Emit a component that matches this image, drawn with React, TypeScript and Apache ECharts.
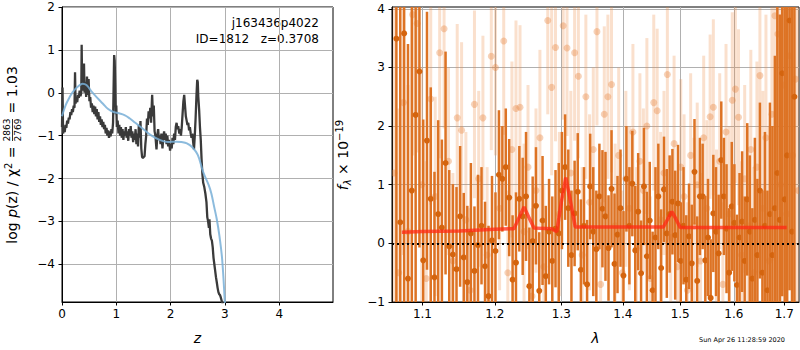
import React, { useEffect, useRef } from 'react';
import * as echarts from 'echarts';

// ---------- left panel: log p(z) ----------
const pzCurve: [number, number][] = [
  [0.0, -0.8], [0.01, 0.12], [0.02, -0.95], [0.035, -0.85], [0.05, -0.92], [0.065, -0.75], [0.08, -0.82], [0.095, -0.65],
  [0.11, -0.72], [0.125, -0.58], [0.14, -0.62], [0.155, -0.45], [0.17, -0.52], [0.185, -0.38], [0.2, -0.45], [0.215, -0.3],
  [0.23, -0.35], [0.24, 0.48], [0.25, -0.25], [0.265, -0.15], [0.28, -0.22], [0.295, -0.05], [0.31, -0.12], [0.325, 0.05],
  [0.34, -0.08], [0.355, 0.0], [0.362, 1.12], [0.372, 0.05], [0.39, 0.15], [0.405, 0.68], [0.415, 0.0], [0.43, 0.25],
  [0.445, -0.1], [0.46, 0.38], [0.475, -0.05], [0.49, 0.32], [0.505, -0.2], [0.52, -0.1], [0.535, -0.35], [0.55, -0.25],
  [0.565, -0.45], [0.58, -0.3], [0.595, -0.5], [0.61, -0.32], [0.625, -0.55], [0.64, -0.38], [0.655, -0.62], [0.67, -0.45],
  [0.685, -0.68], [0.7, -0.55], [0.715, -0.75], [0.73, -0.62], [0.745, -0.8], [0.76, -0.68], [0.775, -0.85], [0.79, -0.75],
  [0.805, -0.95], [0.82, -0.82], [0.835, -1.0], [0.85, -0.88], [0.865, -1.05], [0.88, -0.9], [0.895, -1.02], [0.91, -0.85],
  [0.925, -0.95], [0.94, -0.7], [0.95, 0.1], [0.96, 0.88], [0.97, 0.75], [0.98, 0.2], [0.99, -0.5], [1.0, -0.3],
  [1.01, -0.8], [1.025, -0.65], [1.04, -0.95], [1.055, -0.75], [1.07, -1.0], [1.085, -0.8], [1.1, -1.05], [1.115, -0.85],
  [1.13, -1.1], [1.145, -0.9], [1.16, -1.0], [1.175, -0.8], [1.19, -1.05], [1.205, -0.9], [1.22, -1.12], [1.235, -0.85],
  [1.25, -1.0], [1.265, -0.78], [1.28, -1.05], [1.295, -0.9], [1.31, -1.15], [1.325, -0.95], [1.34, -1.1], [1.355, -0.85],
  [1.37, -1.2], [1.385, -0.95], [1.4, -1.25], [1.415, -0.75], [1.43, -1.05], [1.445, -0.66], [1.46, -1.3], [1.475, -1.5],
  [1.49, -1.52], [1.505, -1.5], [1.52, -1.48], [1.535, -1.2], [1.55, -1.0], [1.565, -0.6], [1.58, -0.75], [1.595, -0.43],
  [1.61, -0.6], [1.625, -0.35], [1.64, -0.7], [1.66, -0.05], [1.675, -0.55], [1.69, -0.3], [1.705, -0.9], [1.72, -1.0],
  [1.74, -1.32], [1.755, -1.0], [1.77, -0.85], [1.785, -1.1], [1.8, -1.0], [1.815, -1.2], [1.83, -0.95], [1.85, -1.3],
  [1.865, -1.05], [1.88, -0.9], [1.895, -1.1], [1.91, -0.95], [1.925, -1.2], [1.94, -1.0], [1.955, -1.25], [1.97, -1.1],
  [1.99, -1.35], [2.005, -1.2], [2.02, -1.3], [2.035, -1.05], [2.05, -1.2], [2.065, -0.95], [2.08, -1.1], [2.095, -0.8],
  [2.11, -0.7], [2.125, -0.85], [2.14, -0.78], [2.16, -0.95], [2.175, -0.85], [2.19, -1.0], [2.205, -0.8], [2.22, -0.5],
  [2.235, -0.2], [2.25, -0.05], [2.265, -0.3], [2.28, -0.55], [2.295, -0.65], [2.31, -0.75], [2.325, -0.7], [2.34, -0.88],
  [2.355, -0.8], [2.37, -0.95], [2.385, -1.05], [2.4, -0.95], [2.415, -1.15], [2.43, -1.32], [2.445, -1.0], [2.46, -0.6],
  [2.475, -0.1], [2.49, 0.3], [2.5, 0.25], [2.51, -0.1], [2.525, -0.4], [2.54, -0.8], [2.555, -1.1], [2.57, -1.55],
  [2.585, -1.9], [2.6, -2.1], [2.62, -2.2], [2.64, -2.35], [2.66, -2.55], [2.675, -2.9], [2.69, -3.0], [2.705, -3.15],
  [2.715, -2.95], [2.73, -3.3], [2.745, -3.4], [2.76, -3.45], [2.775, -3.6], [2.79, -3.85], [2.805, -4.0], [2.82, -4.15],
  [2.835, -4.3], [2.85, -4.42], [2.865, -4.55], [2.88, -4.65], [2.895, -4.7], [2.91, -4.72], [2.925, -4.78], [2.94, -4.85],
  [2.955, -4.92], [2.97, -5.0],
];

const pzSmooth: [number, number][] = [
  [0.0, -0.55], [0.05, -0.35], [0.1, -0.2], [0.2, 0.02], [0.3, 0.15], [0.38, 0.21], [0.45, 0.18], [0.55, 0.02],
  [0.65, -0.12], [0.75, -0.25], [0.85, -0.38], [0.95, -0.45], [1.05, -0.48], [1.15, -0.52], [1.25, -0.6], [1.35, -0.7],
  [1.5, -0.85], [1.65, -1.0], [1.8, -1.1], [1.95, -1.15], [2.1, -1.14], [2.2, -1.15], [2.3, -1.18], [2.4, -1.27],
  [2.5, -1.45], [2.6, -1.85], [2.7, -2.15], [2.75, -2.35], [2.8, -2.65], [2.85, -2.95], [2.9, -3.35], [2.95, -3.9], [3.0, -4.95],
];

const leftXTicks = [0, 1, 2, 3, 4];
const leftYTicks = [-4, -3, -2, -1, 0, 1, 2];

// ---------- right panel: spectrum ----------
const darkLam = [
  1.066, 1.071, 1.076, 1.081, 1.086, 1.091, 1.096, 1.101, 1.106, 1.111,
  1.116, 1.121, 1.126, 1.131, 1.136, 1.141, 1.146, 1.151, 1.156, 1.161,
  1.166, 1.171, 1.176, 1.181, 1.186, 1.191, 1.196, 1.201, 1.206, 1.211,
  1.216, 1.221, 1.226, 1.231, 1.236, 1.241, 1.246, 1.251, 1.256, 1.261,
  1.266, 1.271, 1.276, 1.281, 1.286, 1.291, 1.296, 1.301, 1.306, 1.311,
  1.316, 1.321, 1.326, 1.331, 1.336, 1.341, 1.346, 1.351, 1.356, 1.361,
  1.366, 1.371, 1.376, 1.381, 1.386, 1.391, 1.396, 1.401, 1.406, 1.411,
  1.416, 1.421, 1.426, 1.431, 1.436, 1.441, 1.446, 1.451, 1.456, 1.461,
  1.466, 1.471, 1.476, 1.481, 1.486, 1.491, 1.496, 1.501, 1.506, 1.511,
  1.516, 1.521, 1.526, 1.531, 1.536, 1.541, 1.546, 1.551, 1.556, 1.561,
  1.566, 1.571, 1.576, 1.581, 1.586, 1.591, 1.596, 1.601, 1.606, 1.611,
  1.616, 1.621, 1.626, 1.631, 1.636, 1.641, 1.646, 1.651, 1.656, 1.661,
  1.666, 1.671, 1.676, 1.681, 1.686, 1.691, 1.696, 1.701, 1.706, 1.711, 1.716, 1.721,
];
const darkFlux = [
  3.49, 0.36, 3.58, -0.6, 0.9, 2.19, 2.93, -0.29, 1.75, 0.76,
  -0.58, 0.5, 0.27, 1.37, -0.05, -0.19, -0.44, 0.46, -0.24, -0.66,
  0.17, -0.47, -0.03, 0.3, -0.39, -0.9, 0.05, -0.13, 1.17, 1.1,
  1.3, 0.78, -0.62, -0.33, 0.76, 0.46, 0.8, -0.73, 0.04, 0.64,
  -0.81, 0.39, -0.56, 0.2, -0.3, 0.25, 0.17, 0.9, 1.3, 0.6,
  -0.2, 0.51, 0.88, -0.45, 0.3, -0.7, 0.97, 0.2, -0.1, 0.8,
  0.59, 0.46, -0.08, 0.93, -0.35, 0.15, 0.6, -0.55, 1.1, 0.3,
  1.02, -0.12, 0.54, -0.51, 0.97, -0.22, 0.39, -0.8, 0.1, 0.8,
  -0.42, 0.92, 0.17, 0.5, 0.71, 0.14, 0.68, -0.3, 0.3, -0.62,
  0.12, -0.34, 1.22, -0.64, 0.8, 0.8, -0.29, 0.1, -0.93, 0.51,
  0.2, -0.17, 1.42, 0.8, 0.25, -0.5, 0.63, 0.35, -0.71, 0.1,
  0.37, -0.3, 0.75, 0.2, -0.6, 0.4, -0.2, 0.9, -0.5, 0.3,
  -0.8, 0.5, -0.2, 0.6, 1.2, 0.4, 2.9, 0.75, 1.5, 3.8, 0.2, 2.5,
];
const darkErr = [
  4.5, 4.2, 4.6, 4.0, 3.8, 3.5, 3.0, 2.4, 2.2, 1.9,
  1.8, 1.6, 1.5, 1.9, 1.3, 1.2, 1.4, 1.2, 1.1, 1.3,
  1.2, 1.1, 1.2, 1.0, 1.1, 1.2, 1.1, 1.0, 1.1, 0.9,
  1.0, 1.0, 1.1, 1.2, 0.9, 1.0, 1.1, 1.0, 1.1, 1.0,
  1.0, 1.1, 1.2, 0.9, 1.1, 1.0, 1.2, 1.0, 0.9, 1.0,
  1.1, 0.9, 1.0, 1.2, 1.0, 1.1, 0.9, 1.1, 1.0, 0.9,
  1.0, 1.1, 0.9, 1.0, 1.2, 1.0, 1.0, 1.1, 0.9, 1.0,
  0.9, 1.1, 1.0, 0.9, 1.0, 1.1, 1.0, 1.0, 1.2, 0.9,
  1.0, 0.9, 1.1, 1.0, 0.9, 1.1, 1.0, 1.0, 1.0, 1.1,
  0.9, 1.0, 0.9, 1.1, 1.0, 0.9, 1.1, 1.0, 1.0, 1.0,
  1.1, 1.0, 1.0, 1.0, 1.1, 1.1, 1.1, 1.0, 1.2, 1.1,
  1.2, 1.1, 1.3, 1.3, 1.2, 1.4, 1.3, 1.5, 1.4, 1.6,
  1.7, 1.9, 2.2, 2.6, 3.0, 3.5, 3.8, 4.2, 4.5, 4.6, 5.0, 5.0,
];

const lightLam = [
  1.063, 1.069, 1.075, 1.081, 1.087, 1.093, 1.099, 1.105, 1.111, 1.117,
  1.123, 1.129, 1.135, 1.141, 1.147, 1.153, 1.159, 1.165, 1.171, 1.177,
  1.183, 1.189, 1.195, 1.201, 1.207, 1.213, 1.219, 1.225, 1.231, 1.237,
  1.243, 1.249, 1.255, 1.261, 1.267, 1.273, 1.279, 1.285, 1.291, 1.297,
  1.303, 1.309, 1.315, 1.321, 1.327, 1.333, 1.339, 1.345, 1.351, 1.357,
  1.363, 1.369, 1.375, 1.381, 1.387, 1.393, 1.399, 1.405, 1.411, 1.417,
  1.423, 1.429, 1.435, 1.441, 1.447, 1.453, 1.459, 1.465, 1.471, 1.477,
  1.483, 1.489, 1.495, 1.501, 1.507, 1.513, 1.519, 1.525, 1.531, 1.537,
  1.543, 1.549, 1.555, 1.561, 1.567, 1.573, 1.579, 1.585, 1.591, 1.597,
  1.603, 1.609, 1.615, 1.621, 1.627, 1.633, 1.639, 1.645, 1.651, 1.657,
  1.663, 1.669, 1.675, 1.681, 1.687, 1.693, 1.699, 1.705, 1.711, 1.717, 1.723, 1.729,
];
const lightFlux = [
  1.2, -0.5, 2.4, 0.2, 3.9, 3.75, 1.0, -0.6, 2.46, 0.8,
  3.25, 3.66, 1.4, -0.3, 2.14, 1.93, 0.4, -0.8, 2.37, 1.1,
  2.14, -0.2, 3.19, 3.0, 0.6, 3.45, -0.5, 1.6, 2.3, 2.32,
  0.2, 1.3, -0.9, 0.9, 1.8, -0.4, 3.8, 2.66, 3.34, 0.5,
  3.71, 3.33, 1.2, 3.25, 2.85, -0.2, 2.5, 0.7, 1.6, 3.61,
  -0.7, 2.2, 2.5, 2.71, 0.3, 1.5, -0.5, 1.1, 0.6, 1.9,
  -0.1, 1.4, 0.9, 2.0, -0.6, 2.4, 2.26, 0.4, 1.2, 2.88,
  0.1, 1.7, -0.4, 1.3, 0.8, -0.8, 1.5, 0.3, 1.0, -0.3,
  1.8, 0.6, 2.16, 2.32, 0.2, 1.4, -0.7, 1.9, 0.5, 2.44,
  2.63, 2.15, -0.2, 1.1, 0.3, 1.6, -0.5, 1.3, 2.86, 0.6,
  1.8, -0.3, 2.2, 3.88, 3.57, 1.0, 2.7, 0.5, 3.2, 1.5, 2.8, 0.9,
];
const lightErr = [
  3.0, 2.8, 2.6, 2.5, 2.4, 2.2, 2.0, 2.0, 1.8, 1.7,
  1.8, 1.7, 1.6, 1.5, 1.6, 1.5, 1.5, 1.4, 1.6, 1.5,
  1.4, 1.5, 1.6, 1.5, 1.4, 1.6, 1.4, 1.5, 1.5, 1.4,
  1.5, 1.4, 1.5, 1.4, 1.5, 1.4, 1.6, 1.5, 1.6, 1.4,
  1.6, 1.5, 1.4, 1.5, 1.4, 1.5, 1.4, 1.5, 1.4, 1.6,
  1.4, 1.5, 1.4, 1.5, 1.4, 1.5, 1.4, 1.5, 1.4, 1.5,
  1.4, 1.5, 1.4, 1.5, 1.4, 1.5, 1.4, 1.5, 1.4, 1.6,
  1.4, 1.5, 1.4, 1.5, 1.4, 1.5, 1.4, 1.5, 1.4, 1.5,
  1.4, 1.5, 1.4, 1.5, 1.4, 1.5, 1.4, 1.5, 1.5, 1.5,
  1.6, 1.5, 1.6, 1.6, 1.7, 1.7, 1.8, 1.8, 1.9, 2.0,
  2.1, 2.3, 2.5, 2.8, 3.0, 3.2, 3.5, 3.8, 4.0, 4.2, 4.5, 4.8,
];

const modelLam = [
  1.073, 1.1, 1.15, 1.2, 1.228, 1.236, 1.243, 1.25, 1.258, 1.285, 1.293, 1.3, 1.307, 1.313, 1.322,
  1.47, 1.478, 1.485, 1.492, 1.5, 1.705,
];
const modelFlux = [
  0.19, 0.2, 0.21, 0.24, 0.25, 0.45, 0.62, 0.45, 0.26, 0.25, 0.2, 0.7, 1.12, 0.8, 0.28,
  0.28, 0.42, 0.54, 0.42, 0.27, 0.27,
];

const lamTicks = [1.1, 1.2, 1.3, 1.4, 1.5, 1.6, 1.7];
const fluxTicks = [-1, 0, 1, 2, 3, 4];
const lamMin = 1.0604;
const lamMax = 1.7305;

const FONT = 'DejaVu Sans';
const minus = (v: number) => String(v).replace('-', '\u2212');

function errItem(barW: number, r: number, barColor: string, ptColor: string) {
  return (params: any, api: any) => {
    const x = api.value(0);
    const y = api.value(1);
    const e = api.value(2);
    const top = api.coord([x, y + e]);
    const bot = api.coord([x, y - e]);
    const c = api.coord([x, y]);
    return {
      type: 'group',
      children: [
        { type: 'rect', shape: { x: c[0] - barW / 2, y: top[1], width: barW, height: bot[1] - top[1] }, style: { fill: barColor } },
        { type: 'circle', shape: { cx: c[0], cy: c[1], r }, style: { fill: ptColor } },
      ],
    };
  };
}

export default function App() {
  const ref = useRef<HTMLDivElement>(null);
  useEffect(() => {
    if (!ref.current) return;
    const chart = echarts.init(ref.current, undefined, { renderer: 'svg' });
    const axisCommon = {
      axisLine: { show: true, onZero: false, lineStyle: { color: '#000', width: 1 } },
      axisTick: { show: true, inside: false, length: 3.5, lineStyle: { color: '#000', width: 1 } },
      splitLine: { show: true, lineStyle: { color: '#b0b0b0', width: 1 } },
    };
    const labelStyle = { color: '#000', fontSize: 12, fontFamily: FONT };
    const lamTickVals = lamTicks.map((v) => Math.log(v));

    chart.setOption({
      animation: false,
      backgroundColor: '#fff',
      grid: [
        { left: 62, top: 7, width: 271, height: 297, show: true, borderColor: '#000', borderWidth: 1, backgroundColor: 'transparent' },
        { left: 392, top: 7, width: 407, height: 297, show: true, borderColor: '#000', borderWidth: 1, backgroundColor: 'transparent' },
      ],
      xAxis: [
        {
          type: 'value', gridIndex: 0, min: 0, max: 4.99,
          ...axisCommon,
          axisTick: { ...axisCommon.axisTick, customValues: leftXTicks },
          axisLabel: { ...labelStyle, margin: 6, customValues: leftXTicks, formatter: (v: number) => minus(v) },
          name: 'z', nameLocation: 'middle', nameGap: 29,
          nameTextStyle: { fontSize: 14, fontStyle: 'italic', fontFamily: FONT, color: '#000' },
        },
        {
          type: 'value', gridIndex: 1, min: Math.log(lamMin), max: Math.log(lamMax),
          ...axisCommon,
          axisTick: { ...axisCommon.axisTick, customValues: lamTickVals },
          axisLabel: { ...labelStyle, margin: 6, customValues: lamTickVals, formatter: (v: number) => Math.exp(v).toFixed(1) },
          name: '\u03bb', nameLocation: 'middle', nameGap: 29,
          nameTextStyle: { fontSize: 14, fontStyle: 'italic', fontFamily: FONT, color: '#000' },
        },
      ],
      yAxis: [
        {
          type: 'value', gridIndex: 0, min: -4.88, max: 2,
          ...axisCommon,
          axisTick: { ...axisCommon.axisTick, customValues: leftYTicks },
          axisLabel: { ...labelStyle, margin: 7, customValues: leftYTicks, formatter: (v: number) => minus(v) },
        },
        {
          type: 'value', gridIndex: 1, min: -1, max: 4.03,
          ...axisCommon,
          axisTick: { ...axisCommon.axisTick, customValues: fluxTicks },
          axisLabel: { ...labelStyle, margin: 7, customValues: fluxTicks, formatter: (v: number) => minus(v) },
        },
      ],
      series: [
        {
          type: 'line', xAxisIndex: 0, yAxisIndex: 0, data: pzCurve, showSymbol: false, symbol: 'none',
          lineStyle: { color: '#3a3a3a', width: 2.3 }, clip: true, z: 3,
        },
        {
          type: 'line', xAxisIndex: 0, yAxisIndex: 0, data: pzSmooth, showSymbol: false, symbol: 'none', smooth: 0.4,
          lineStyle: { color: 'rgba(120,175,215,0.85)', width: 2 }, clip: true, z: 4,
        },
        {
          type: 'custom', xAxisIndex: 1, yAxisIndex: 1, clip: true, z: 2,
          renderItem: errItem(3, 3.5, 'rgba(238,140,70,0.27)', 'rgba(228,125,55,0.35)'),
          encode: { x: 0, y: 1 },
          data: lightLam.map((l, i) => [Math.log(l), lightFlux[i], lightErr[i]]),
        },
        {
          type: 'custom', xAxisIndex: 1, yAxisIndex: 1, clip: true, z: 3,
          renderItem: errItem(2.5, 3, '#dd7324', '#d4640e'),
          encode: { x: 0, y: 1 },
          data: darkLam.map((l, i) => [Math.log(l), darkFlux[i], darkErr[i]]),
        },
        {
          type: 'line', xAxisIndex: 1, yAxisIndex: 1, showSymbol: false, symbol: 'none', z: 5,
          data: modelLam.map((l, i) => [Math.log(l), modelFlux[i]]),
          lineStyle: { color: 'rgba(255,40,20,0.75)', width: 3.5 },
          markLine: {
            silent: true, symbol: ['none', 'none'], label: { show: false },
            lineStyle: { color: '#000', type: [2, 3], width: 2 },
            data: [{ yAxis: 0 }],
          },
        },
      ],
      graphic: [
        {
          type: 'text', x: 319, y: 23,
          style: { text: 'j163436p4022', fontSize: 12, fontFamily: FONT, fill: '#000', align: 'right', verticalAlign: 'middle' },
        },
        {
          type: 'text', x: 319, y: 39,
          style: { text: 'ID=1812\u00a0\u00a0\u00a0z=0.3708', fontSize: 12, fontFamily: FONT, fill: '#000', align: 'right', verticalAlign: 'middle' },
        },
        {
          type: 'group', x: 12, y: 241, rotation: Math.PI / 2,
          children: [
            {
              type: 'text', x: 99, y: 0,
              style: {
                text: '{n|log }{i|p}{n|(z) / \u03c7}{s|2}{n| = }',
                align: 'right', verticalAlign: 'middle', fill: '#000',
                rich: {
                  n: { fontSize: 14, fontFamily: FONT, lineHeight: 18 },
                  i: { fontSize: 14, fontFamily: FONT, fontStyle: 'italic', lineHeight: 18 },
                  s: { fontSize: 10, fontFamily: FONT, lineHeight: 10, verticalAlign: 'top' },
                },
              },
            },
            {
              type: 'text', x: 111, y: -5,
              style: { text: '2863', fontSize: 9, fontFamily: FONT, fill: '#000', align: 'center', verticalAlign: 'middle' },
            },
            { type: 'line', shape: { x1: 100, y1: 0.5, x2: 122, y2: 0.5 }, style: { stroke: '#000', lineWidth: 0.8 } },
            {
              type: 'text', x: 111, y: 6,
              style: { text: '2769', fontSize: 9, fontFamily: FONT, fill: '#000', align: 'center', verticalAlign: 'middle' },
            },
            {
              type: 'text', x: 123, y: 0,
              style: { text: ' = 1.03', fontSize: 14, fontFamily: FONT, fill: '#000', align: 'left', verticalAlign: 'middle' },
            },
          ],
        },
        {
          type: 'group', x: 343, y: 155, rotation: Math.PI / 2,
          children: [
            {
              type: 'text', x: 0, y: 0,
              style: {
                text: '{i|f}{b|\u03bb}{n| \u00d7 10}{s|\u221219}',
                align: 'center', verticalAlign: 'middle', fill: '#000',
                rich: {
                  n: { fontSize: 14, fontFamily: FONT, lineHeight: 18 },
                  i: { fontSize: 14, fontFamily: FONT, fontStyle: 'italic', lineHeight: 18 },
                  b: { fontSize: 10, fontFamily: FONT, fontStyle: 'italic', lineHeight: 10, verticalAlign: 'bottom' },
                  s: { fontSize: 10, fontFamily: FONT, lineHeight: 10, verticalAlign: 'top' },
                },
              },
            },
          ],
        },
        {
          type: 'text', x: 742, y: 340,
          style: { text: 'Sun Apr 26 11:28:59 2020', fontSize: 6.5, fontFamily: FONT, fill: '#000', align: 'center', verticalAlign: 'middle' },
        },
      ],
    });
    return () => chart.dispose();
  }, []);
  return <div ref={ref} style={{ position: 'fixed', left: 0, top: 0, width: 800, height: 350 }} />;
}
